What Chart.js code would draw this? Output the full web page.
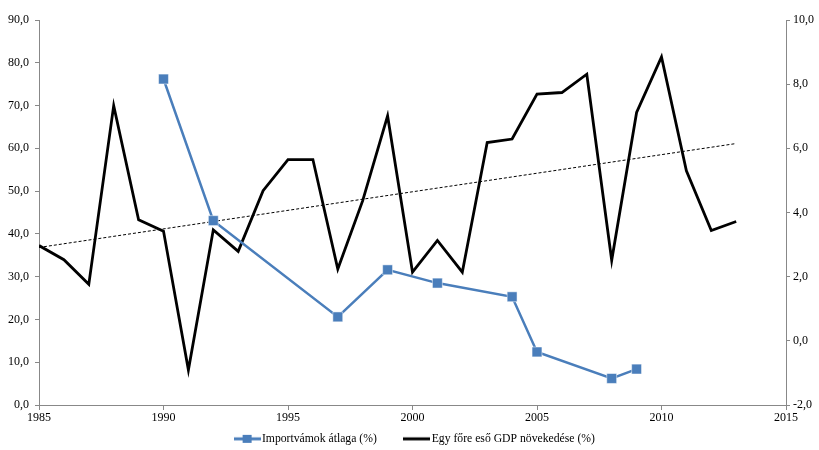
<!DOCTYPE html>
<html><head><meta charset="utf-8">
<script src="https://cdn.jsdelivr.net/npm/chart.js@4.4.1/dist/chart.umd.min.js"></script>
<style>html,body{margin:0;padding:0;background:#fff}#wrap{width:819px;height:450px}</style>
</head><body><div id="wrap"><canvas id="c" width="819" height="450"></canvas></div>
<script>
const gdpYears = [1985,1986,1987,1988,1989,1990,1991,1992,1993,1994,1995,1996,1997,1998,1999,2000,2001,2002,2003,2004,2005,2006,2007,2008,2009,2010,2011,2012,2013];
const gdpValues = [2.97,2.53,1.76,7.33,3.77,3.42,-0.91,3.46,2.79,4.68,5.65,5.65,2.24,4.37,7.01,2.14,3.13,2.14,6.18,6.29,7.69,7.74,8.31,2.51,7.12,8.85,5.30,3.44,3.72];
const tariffYears = [1990,1992,1997,1999,2001,2004,2005,2008,2009];
const tariffValues = [76.2,43.1,20.6,31.6,28.5,25.3,12.4,6.2,8.4];
const trendYears = [1985,2013];
const trendValues = [2.91,6.15];
const xTicks = [1985,1990,1995,2000,2005,2010,2015];
const seriesNames = ['Importvámok átlaga (%)','Egy főre eső GDP növekedése (%)'];

const FONT = '"Liberation Serif","Times New Roman",serif';
const BLUE = '#4A7EBB';
function pts(xs, ys){ return xs.map((x,i)=>({x:x,y:ys[i]})); }

function legendIcon(withSquare, color){
  const cv = document.createElement('canvas'); cv.width = 27; cv.height = 10;
  const g = cv.getContext('2d');
  g.strokeStyle = color; g.lineWidth = 3;
  g.beginPath(); g.moveTo(0,5); g.lineTo(27,5); g.stroke();
  if (withSquare){ g.fillStyle = color; g.fillRect(9,1,9,8); }
  return cv;
}
const icons = [legendIcon(true, BLUE), legendIcon(false, '#000')];

const fmt = v => Number(v).toFixed(1).replace('.', ',');

// keep the legend compact vertically while keeping wide spacing between items
const legendTune = {
  id: 'legendTune',
  beforeLayout(chart){
    const lg = chart.legend;
    if (lg && !lg.__tuned){
      lg.__tuned = true;
      const fit = lg.fit.bind(lg);
      lg.fit = function(){ fit(); this.height = 25; };
      const draw = lg.draw.bind(lg);
      lg.draw = function(){
        const t = this.top, b = this.bottom, l = this.left, r = this.right;
        this.top = t - 23; this.bottom = this.chart.height; this.left = l + 7; this.right = r + 7;
        draw();
        this.top = t; this.bottom = b; this.left = l; this.right = r;
      };
    }
  }
};

new Chart(document.getElementById('c'), {
  type: 'line',
  plugins: [legendTune],
  data: {
    datasets: [
      { label: seriesNames[0], data: pts(tariffYears, tariffValues), yAxisID: 'y', borderColor: BLUE, backgroundColor: BLUE, borderWidth: 2.5, pointStyle: 'rect', pointRadius: 7, pointHoverRadius: 7, pointBorderColor: '#ffffff', pointBorderWidth: 0.5, tension: 0, order: 1 },
      { label: seriesNames[1], data: pts(gdpYears, gdpValues), yAxisID: 'y2', borderColor: '#000', backgroundColor: '#000', borderWidth: 2.8, pointRadius: 0, tension: 0, order: 2 },
      { label: 'trend', data: pts(trendYears, trendValues), yAxisID: 'y2', borderColor: '#000', borderWidth: 1, borderDash: [3,2], pointRadius: 0, tension: 0, order: 3 }
    ]
  },
  options: {
    responsive: false, animation: false,
    layout: { padding: { top: 20, right: 0, left: 0, bottom: 0 } },
    plugins: {
      tooltip: { enabled: false },
      legend: {
        position: 'bottom',
        labels: {
          font: { family: FONT, size: 11.7 }, color: '#000',
          usePointStyle: true, pointStyleWidth: 18, padding: 31,
          filter: item => item.datasetIndex < 2,
          generateLabels: chart => chart.data.datasets.slice(0,2).map((d,i)=>({
            text: d.label, pointStyle: icons[i], datasetIndex: i, fontColor: '#000',
            strokeStyle: 'transparent', fillStyle: 'transparent', lineWidth: 0
          }))
        }
      }
    },
    scales: {
      x: {
        type: 'linear', min: 1985, max: 2015,
        afterBuildTicks: s => { s.ticks = xTicks.map(v=>({value:v})); },
        grid: { drawOnChartArea: false, color: '#888', tickLength: 5 },
        border: { color: '#888' },
        ticks: { font: { family: FONT, size: 12 }, color: '#000', callback: v => String(v), maxRotation: 0, padding: 1 },
        afterFit: s => { s.height = 20; }
      },
      y: {
        position: 'left', min: 0, max: 90,
        ticks: { stepSize: 10, font: { family: FONT, size: 12 }, color: '#000', callback: v => fmt(v), padding: 6 },
        grid: { drawOnChartArea: false, color: '#888', tickLength: 4 },
        border: { color: '#888' },
        afterFit: s => { s.width = 39; }
      },
      y2: {
        position: 'right', min: -2, max: 10,
        ticks: { stepSize: 2, font: { family: FONT, size: 12 }, color: '#000', callback: v => fmt(v), padding: 3 },
        grid: { drawOnChartArea: false, color: '#888', tickLength: 4 },
        border: { color: '#888' },
        afterFit: s => { s.width = 33; }
      }
    }
  }
});
</script>
</body></html>
